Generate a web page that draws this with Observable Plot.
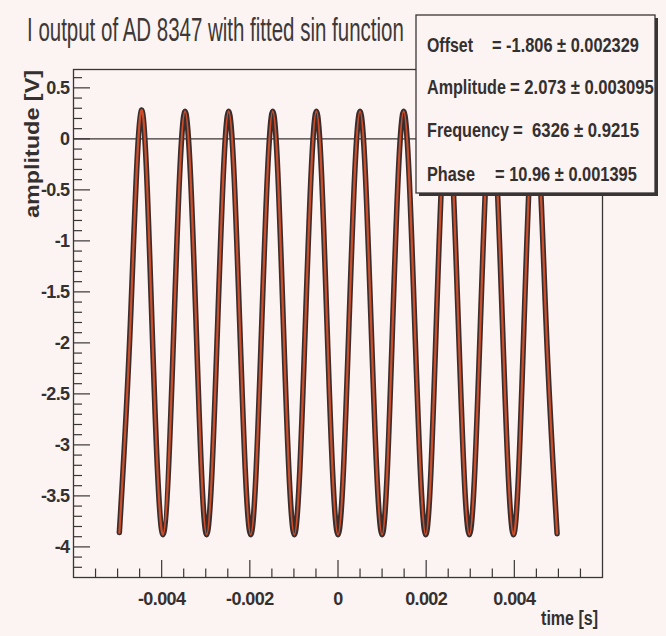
<!DOCTYPE html>
<html><head><meta charset="utf-8">
<script src="https://cdn.jsdelivr.net/npm/d3@7"></script>
<script src="https://cdn.jsdelivr.net/npm/@observablehq/plot@0.6"></script>
<style>
html,body{margin:0;padding:0;background:#fbf4f2;}
#chart{width:666px;height:636px;position:relative;overflow:hidden;}
#chart svg [aria-label$="tick label"]{letter-spacing:-0.6px;}
</style></head><body><div id="chart"></div>
<script>
const sampleTime = [-0.00496,-0.00471,-0.00446,-0.00422,-0.00397,-0.00372,-0.00347,-0.00322,-0.00298,-0.00273,
  -0.00248,-0.00223,-0.00198,-0.00173,-0.00148,-0.00124,-0.00099,-0.00074,-0.00049,-0.00025,
  0.00000,0.00025,0.00050,0.00075,0.00100,0.00124,0.00149,0.00174,0.00199,0.00223,
  0.00248,0.00273,0.00298,0.00323,0.00348,0.00373,0.00398,0.00422,0.00447,0.00472,0.00497];
const sampleVolt = [-3.86,-1.81,0.28,-1.81,-3.88,-1.81,0.27,-1.81,-3.88,-1.81,
  0.27,-1.81,-3.88,-1.81,0.27,-1.81,-3.88,-1.81,0.27,-1.81,
  -3.88,-1.81,0.27,-1.81,-3.88,-1.81,0.27,-1.81,-3.88,-1.81,
  0.27,-1.81,-3.88,-1.81,0.27,-1.81,-3.88,-1.81,0.27,-1.81,-3.87];

const xMajorTicks = [-0.004,-0.002,0,0.002,0.004];
const xMinorTicks = [-0.0055,-0.005,-0.0045,-0.0035,-0.003,-0.0025,-0.0015,-0.001,-0.0005,
  0.0005,0.001,0.0015,0.0025,0.003,0.0035,0.0045,0.005,0.0055];
const yMajorTicks = [0.5,0,-0.5,-1,-1.5,-2,-2.5,-3,-3.5,-4];
const yMinorTicks = [0.6,0.4,0.3,0.2,0.1,-0.1,-0.2,-0.3,-0.4,-0.6,-0.7,-0.8,-0.9,-1.1,-1.2,-1.3,-1.4,
  -1.6,-1.7,-1.8,-1.9,-2.1,-2.2,-2.3,-2.4,-2.6,-2.7,-2.8,-2.9,-3.1,-3.2,-3.3,-3.4,-3.6,-3.7,-3.8,-3.9,-4.1,-4.2];

const titleText = "I output of AD 8347 with fitted sin function";
const xLabel = "time [s]";
const yLabel = "amplitude [V]";
const fitNames = ["Offset","Amplitude","Frequency","Phase"];
const fitValues = ["= -1.806 \u00b1 0.002329","= 2.073 \u00b1 0.003095","=  6326 \u00b1 0.9215","= 10.96 \u00b1 0.001395"];

const W = 666, H = 636, ML = 73, MR = 64, MT = 69, MB = 59;
const PW = W - ML - MR, PH = H - MT - MB;
const FONT = "'Liberation Sans',Arial,Helvetica,sans-serif";
const INK = "#353030";

const series = sampleTime.map((t, i) => ({t, v: sampleVolt[i]}));
const fmt = d => d === 0 ? "0" : String(d);

const svg = Plot.plot({
  width: W, height: H,
  marginLeft: ML, marginRight: MR, marginTop: MT, marginBottom: MB,
  style: {background: "#fbf4f2", fontFamily: FONT, color: INK},
  x: {domain: [-0.006, 0.006]},
  y: {domain: [-4.3, 0.68]},
  marks: [
    Plot.ruleY([0], {stroke: "#3a3535", strokeWidth: 1.2}),
    Plot.line(series, {x: "t", y: "v", curve: "natural", stroke: "#3a2d2d", strokeWidth: 5.5}),
    Plot.line(series, {x: "t", y: "v", curve: "natural", stroke: "#cc4f2c", strokeWidth: 2.2}),
    Plot.ruleX(xMajorTicks, {x: d => d, insetTop: PH - 17, stroke: "#3a3535", strokeWidth: 1.2}),
    Plot.ruleX(xMinorTicks, {x: d => d, insetTop: PH - 8.5, stroke: "#3a3535", strokeWidth: 1.2}),
    Plot.ruleY(yMajorTicks, {y: d => d, insetRight: PW - 17, stroke: "#3a3535", strokeWidth: 1.2}),
    Plot.ruleY(yMinorTicks, {y: d => d, insetRight: PW - 9, stroke: "#3a3535", strokeWidth: 1.2}),
    Plot.frame({stroke: "#3a3535", strokeWidth: 1.3}),
    Plot.axisX(xMajorTicks, {tickSize: 0, tickPadding: 15, tickFormat: fmt, label: null,
      fontSize: 18, fontWeight: "bold", fill: INK, fontFamily: FONT}),
    Plot.axisY(yMajorTicks, {tickSize: 0, tickPadding: 4, tickFormat: fmt, label: null,
      fontSize: 18, fontWeight: "bold", fill: INK, fontFamily: FONT})
  ]
});
document.getElementById("chart").appendChild(svg);

const s = d3.select(svg);

// place a text so that its natural width matches the reference, then stretch it vertically
function fitText(parent, str, {x, y, width, cap, anchor = "start", rotate = 0, bold = false, fill = INK}) {
  const t = parent.append("text").attr("text-anchor", anchor).attr("font-family", FONT)
    .attr("font-weight", bold ? "bold" : "normal").attr("fill", fill).attr("font-size", 20)
    .attr("x", 0).attr("y", 0).text(str);
  const w = t.node().getComputedTextLength();
  const fs = 20 * width / w;
  t.attr("font-size", fs);
  const sy = cap / (0.716 * fs);
  t.attr("transform", `translate(${x},${y}) rotate(${rotate}) scale(1,${sy})`);
  return t;
}

fitText(s, titleText, {x: 27, y: 41, width: 377, cap: 23.5, fill: "#3e3838"});
fitText(s, yLabel, {x: 39, y: 70, width: 148, cap: 14, anchor: "end", rotate: -90, bold: true});
fitText(s, xLabel, {x: 598, y: 625, width: 57, cap: 14, anchor: "end", bold: true});

// stats box
const box = s.append("g");
box.append("rect").attr("x", 419).attr("y", 18).attr("width", 239).attr("height", 178).attr("fill", "#3a3535");
box.append("rect").attr("x", 416).attr("y", 15).attr("width", 239).attr("height", 178)
  .attr("fill", "#fbf4f2").attr("stroke", "#3a3535").attr("stroke-width", 1.3);
const baselines = [52, 94, 137, 181];
const nameW = [46, 79, 82, 48];
const valX = [492, 510, 513, 495];
const valW = [147, 144, 126, 142];
fitNames.forEach((n, i) => {
  fitText(box, n, {x: 427, y: baselines[i], width: nameW[i], cap: 15, bold: true});
  fitText(box, fitValues[i], {x: valX[i], y: baselines[i], width: valW[i], cap: 15, bold: true});
});
</script></body></html>
